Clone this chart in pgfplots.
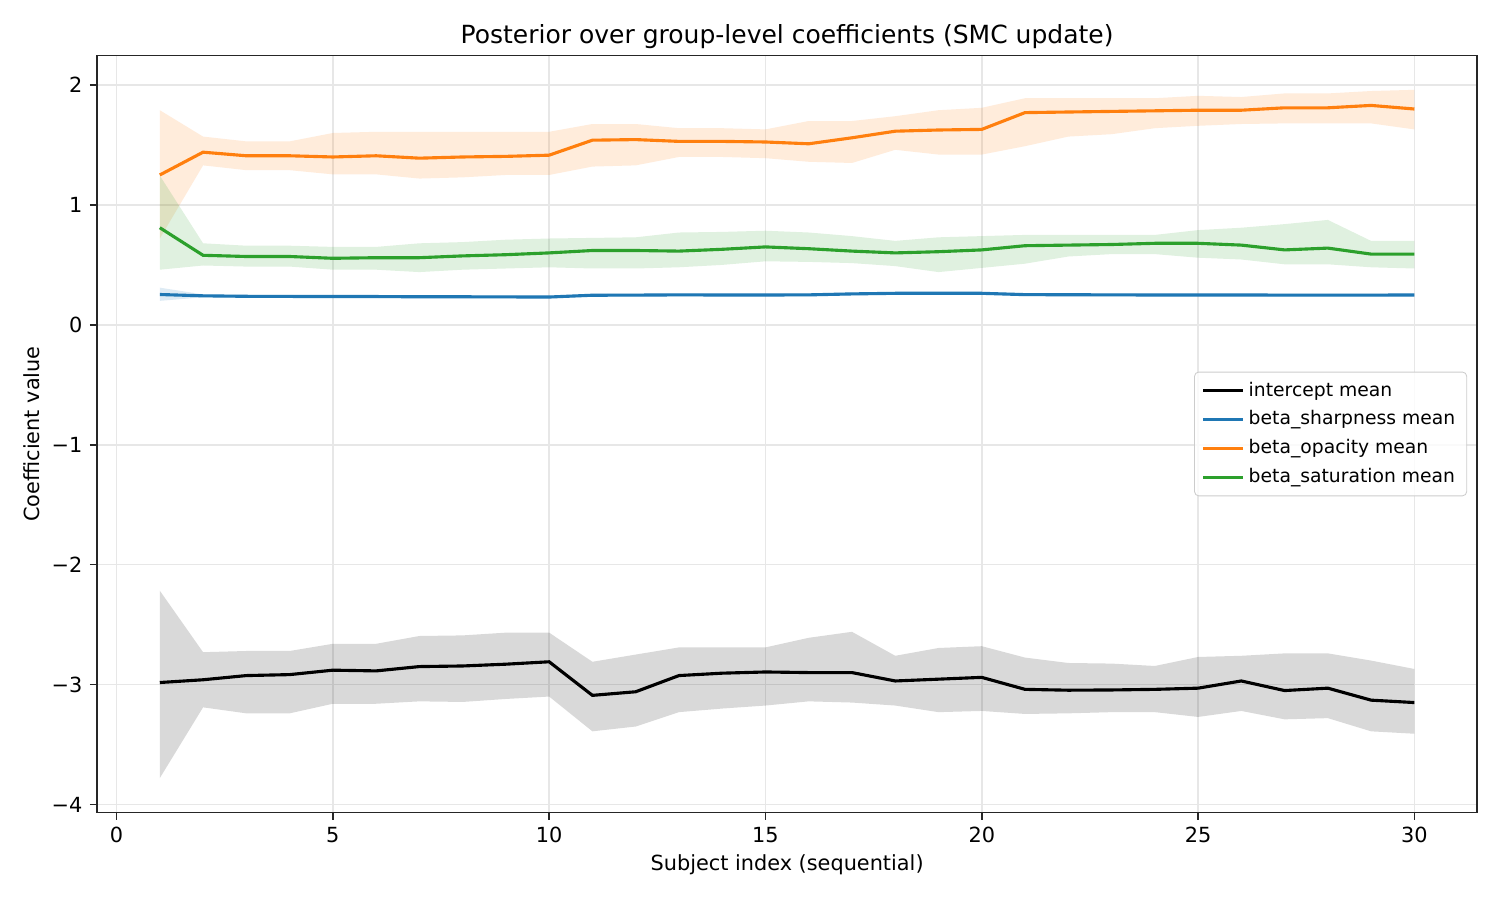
\documentclass[border=0pt]{standalone}
\usepackage{fontspec}
\setmainfont{DejaVu Sans}
\usepackage{pgfplots}
\pgfplotsset{compat=1.18}
\usepackage{pgfplotstable}
\usepgfplotslibrary{fillbetween}
\definecolor{tabblue}{HTML}{1F77B4}
\definecolor{taborange}{HTML}{FF7F0E}
\definecolor{tabgreen}{HTML}{2CA02C}
\definecolor{gridc}{HTML}{E7E7E7}
\definecolor{spine}{HTML}{262626}

\pgfplotstableread{
x m lo hi
1 -2.983 -3.78 -2.217
2 -2.960 -3.19 -2.73
3 -2.925 -3.24 -2.72
4 -2.917 -3.24 -2.72
5 -2.880 -3.16 -2.66
6 -2.886 -3.16 -2.66
7 -2.850 -3.14 -2.595
8 -2.845 -3.145 -2.59
9 -2.830 -3.12 -2.567
10 -2.810 -3.10 -2.567
11 -3.090 -3.39 -2.81
12 -3.060 -3.35 -2.75
13 -2.925 -3.23 -2.69
14 -2.905 -3.20 -2.69
15 -2.895 -3.175 -2.69
16 -2.900 -3.14 -2.61
17 -2.900 -3.15 -2.56
18 -2.970 -3.175 -2.76
19 -2.955 -3.23 -2.695
20 -2.940 -3.22 -2.68
21 -3.040 -3.245 -2.775
22 -3.047 -3.24 -2.82
23 -3.045 -3.23 -2.825
24 -3.040 -3.23 -2.845
25 -3.030 -3.27 -2.77
26 -2.970 -3.22 -2.76
27 -3.050 -3.29 -2.74
28 -3.030 -3.28 -2.74
29 -3.130 -3.39 -2.80
30 -3.150 -3.41 -2.87
}\intercept

\pgfplotstableread{
x m lo hi
1 0.253 0.200 0.310
2 0.242 0.230 0.254
3 0.238 0.226 0.250
4 0.237 0.225 0.249
5 0.236 0.224 0.248
6 0.236 0.224 0.248
7 0.234 0.222 0.246
8 0.234 0.222 0.246
9 0.233 0.221 0.245
10 0.232 0.220 0.244
11 0.247 0.235 0.259
12 0.248 0.236 0.260
13 0.250 0.238 0.262
14 0.249 0.237 0.261
15 0.249 0.237 0.261
16 0.250 0.238 0.262
17 0.258 0.246 0.270
18 0.263 0.251 0.275
19 0.264 0.252 0.276
20 0.263 0.251 0.275
21 0.252 0.240 0.264
22 0.251 0.239 0.263
23 0.250 0.238 0.262
24 0.249 0.237 0.261
25 0.249 0.237 0.261
26 0.249 0.237 0.261
27 0.248 0.236 0.260
28 0.248 0.236 0.260
29 0.248 0.236 0.260
30 0.249 0.237 0.261
}\sharp

\pgfplotstableread{
x m lo hi
1 1.25 0.72 1.79
2 1.44 1.33 1.57
3 1.41 1.29 1.53
4 1.41 1.29 1.53
5 1.40 1.255 1.60
6 1.41 1.255 1.61
7 1.39 1.22 1.61
8 1.40 1.23 1.61
9 1.405 1.25 1.61
10 1.415 1.25 1.61
11 1.54 1.32 1.675
12 1.545 1.33 1.675
13 1.53 1.40 1.64
14 1.53 1.40 1.64
15 1.525 1.39 1.63
16 1.51 1.36 1.70
17 1.56 1.35 1.70
18 1.615 1.46 1.74
19 1.625 1.42 1.79
20 1.63 1.42 1.81
21 1.77 1.49 1.89
22 1.775 1.57 1.89
23 1.78 1.59 1.89
24 1.785 1.64 1.89
25 1.79 1.66 1.91
26 1.79 1.675 1.90
27 1.81 1.68 1.93
28 1.81 1.68 1.93
29 1.83 1.68 1.95
30 1.80 1.63 1.96
}\opac

\pgfplotstableread{
x m lo hi
1 0.81 0.46 1.245
2 0.58 0.495 0.68
3 0.57 0.486 0.66
4 0.57 0.486 0.66
5 0.555 0.46 0.65
6 0.56 0.46 0.65
7 0.56 0.44 0.68
8 0.575 0.46 0.69
9 0.585 0.47 0.71
10 0.60 0.48 0.72
11 0.62 0.47 0.725
12 0.62 0.47 0.73
13 0.615 0.48 0.77
14 0.63 0.50 0.775
15 0.65 0.53 0.785
16 0.635 0.525 0.77
17 0.615 0.515 0.74
18 0.60 0.49 0.70
19 0.61 0.44 0.73
20 0.625 0.475 0.74
21 0.66 0.51 0.75
22 0.665 0.57 0.75
23 0.67 0.59 0.75
24 0.68 0.59 0.75
25 0.68 0.56 0.79
26 0.665 0.545 0.81
27 0.625 0.505 0.84
28 0.64 0.505 0.875
29 0.59 0.48 0.70
30 0.59 0.47 0.70
}\satur

\begin{document}
\fontsize{10}{12}\selectfont
\begin{tikzpicture}
\begin{axis}[
  scale only axis,
  width=662.4pt, height=363.4pt,
  xmin=-0.45, xmax=31.45, ymin=-4.067, ymax=2.247,
  axis line style={spine, line width=0.8pt},
  xtick={0,5,10,15,20,25,30},
  ytick={-4,-3,-2,-1,0,1,2},
  yticklabels={−4,−3,−2,−1,0,1,2},
  /pgf/number format/assume math mode=true,
  tick style={spine, line width=0.8pt},
  tick align=outside, major tick length=3.5pt,
  xtick pos=bottom, ytick pos=left,
  tick label style={font=\fontsize{10}{12}\selectfont},
  grid=major,
  major grid style={gridc, line width=0.8pt},
  xlabel={Subject index (sequential)},
  ylabel={Coefficient value},
  label style={font=\fontsize{10}{12}\selectfont},
  xlabel style={yshift=1pt},
  ylabel style={yshift=-1pt},
  title={Posterior over group-level coefficients (SMC update)},
  title style={font=\fontsize{12}{14}\selectfont, yshift=-6.3pt},
  legend style={at={(rel axis cs:1,0.5)}, anchor=east, xshift=-4.8pt,
    font=\fontsize{9}{11}\selectfont, draw=black!20, rounded corners=2pt,
    fill=white, fill opacity=0.8, text opacity=1,
    row sep=0.8pt, inner xsep=3.5pt, inner ysep=2.5pt,
    nodes={text height=7pt, text depth=2pt}},
  legend cell align=left,
  legend image code/.code={\draw[#1] (0pt,0pt) -- (19pt,0pt);},
]
% intercept
\addplot[draw=none, name path=il, forget plot] table[x=x,y=lo]{\intercept};
\addplot[draw=none, name path=ih, forget plot] table[x=x,y=hi]{\intercept};
\addplot[black, fill opacity=0.15, draw=none, forget plot] fill between[of=il and ih];
% sharpness
\addplot[draw=none, name path=sl, forget plot] table[x=x,y=lo]{\sharp};
\addplot[draw=none, name path=sh, forget plot] table[x=x,y=hi]{\sharp};
\addplot[tabblue, fill opacity=0.15, draw=none, forget plot] fill between[of=sl and sh];
% opacity
\addplot[draw=none, name path=ol, forget plot] table[x=x,y=lo]{\opac};
\addplot[draw=none, name path=oh, forget plot] table[x=x,y=hi]{\opac};
\addplot[taborange, fill opacity=0.15, draw=none, forget plot] fill between[of=ol and oh];
% saturation
\addplot[draw=none, name path=gl, forget plot] table[x=x,y=lo]{\satur};
\addplot[draw=none, name path=gh, forget plot] table[x=x,y=hi]{\satur};
\addplot[tabgreen, fill opacity=0.15, draw=none, forget plot] fill between[of=gl and gh];

\addplot[black, line width=1.5pt, mark=none] table[x=x,y=m]{\intercept};
\addlegendentry{intercept mean}
\addplot[tabblue, line width=1.5pt, mark=none] table[x=x,y=m]{\sharp};
\addlegendentry{beta\_sharpness mean}
\addplot[taborange, line width=1.5pt, mark=none] table[x=x,y=m]{\opac};
\addlegendentry{beta\_opacity mean}
\addplot[tabgreen, line width=1.5pt, mark=none] table[x=x,y=m]{\satur};
\addlegendentry{beta\_saturation mean}
\end{axis}
\pgfresetboundingbox
\path (current axis.south west) ++(-46.6pt,-42pt) coordinate (bl);
\path (current axis.north east) ++(11pt,26.6pt) coordinate (tr);
\path[use as bounding box] (bl) rectangle (tr);
\end{tikzpicture}
\end{document}
